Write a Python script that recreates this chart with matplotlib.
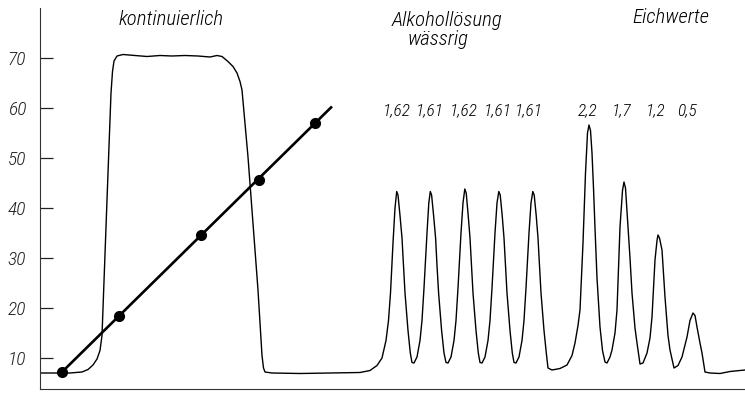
import matplotlib.pyplot as plt

# recorder trace (x = chart paper position, y = scale reading)
trace_x = [40, 70, 82, 88, 93, 97, 100, 102, 105, 108, 111, 112.5, 114, 117, 123,
           135, 147, 160, 172, 185, 198, 210, 217, 222, 228, 233, 237, 240, 242,
           245, 248, 253, 258, 262, 263.5, 265, 272, 300, 330, 360, 370, 377, 382,
           386, 388.5, 390.5, 393, 395, 396.7, 398, 400, 402, 403.5, 405, 408,
           410.3, 412, 414, 417, 420, 422, 424, 427, 428.8, 430.3, 431.6, 433.6,
           435.6, 437, 438.6, 441.6, 444, 446, 448, 451, 454, 456, 458, 461, 463,
           464.8, 466.2, 468.2, 470, 471.5, 473, 476, 478.3, 480, 482, 485, 488,
           490, 492, 495, 497, 498.8, 500.2, 502.2, 504, 505.5, 507, 510, 512.3,
           514, 516, 519, 522, 524, 526, 529, 531, 532.8, 534.2, 536.2, 538, 539.5,
           541, 544, 546.3, 548, 552, 560, 567, 572, 575, 578, 580, 583, 585.5,
           587.5, 589, 590.5, 592, 593.5, 595, 597, 600, 602.5, 605, 607, 610, 612,
           615, 617, 620, 622.5, 624, 625.5, 628, 630, 632, 635, 637, 640, 643, 647,
           650, 652, 655, 657, 658, 659.5, 662, 665, 668, 670, 674, 678, 682, 687,
           690, 693, 695, 697, 700, 702, 705, 710, 720, 730, 745]
trace_y = [7.0, 7.0, 7.2, 7.7, 8.6, 9.8, 11.5, 14.5, 31, 47, 63, 67.3, 69.4, 70.4, 70.7,
           70.5, 70.3, 70.5, 70.4, 70.5, 70.4, 70.2, 70.5, 70.3, 69.3, 68.3, 67.0, 65.3, 63.6,
           57.0, 50.2, 37.0, 23.6, 10.5, 8.0, 7.2, 7.0, 6.9, 7.0, 7.1, 7.5, 8.5, 10.0,
           13.5, 17.5, 23, 33, 40, 43.3, 42.6, 38.5, 34, 28.5, 23, 15.5,
           11, 9.1, 9.0, 10.2, 13.5, 17.5, 24, 35, 41, 43.3, 42.6, 38.5,
           34, 28.5, 23, 15.5, 11, 9.1, 9.0, 10.2, 13.5, 17.5, 24, 35, 41,
           43.8, 43, 38.5, 34, 28.5, 23, 15.5, 11, 9.1, 9.0, 10.2, 13.5,
           17.5, 24, 35, 41, 43.3, 42.6, 38.5, 34, 28.5, 23, 15.5, 11,
           9.1, 9.0, 10.2, 13.5, 17.5, 24, 35, 41, 43.3, 42.6, 38.5, 34, 28.5,
           23, 15.5, 11, 8.0, 7.6, 7.9, 8.6, 10.5, 13, 16.5, 19.6, 33, 47,
           55, 56.6, 55.5, 51, 44, 36, 26, 16.2, 11.5, 9.2, 9.0, 10.2, 11.6,
           15, 19.6, 36.2, 43.5, 45.2, 44, 36.2, 30, 23, 16, 13, 8.8, 9.0, 11,
           14, 18.2, 29.6, 33.5, 34.6, 34, 31.6, 22.2, 14.5, 11.6, 8.0, 8.5, 10.2, 14.2,
           17.5, 19, 18.5, 16.2, 13, 11, 7.2, 7.0, 6.9, 7.3, 7.6]

# calibration line with measured points
dots_x = [62, 119, 201, 259, 315]
dots_y = [7.2, 18.4, 34.6, 45.6, 57.0]
line_x = [62, 332]
line_y = [7.2, 60.3]

yticks = [10, 20, 30, 40, 50, 60, 70]

peak_labels = ['1,62', '1,61', '1,62', '1,61', '1,61', '2,2', '1,7', '1,2', '0,5']
peak_label_x = [397, 430, 464, 498, 529, 588, 622, 656, 687]

fnt = dict(family=['Roboto Condensed', 'DejaVu Sans'],
           style='italic', stretch='condensed', weight='light')

fig = plt.figure(figsize=(7.45, 3.93), dpi=100)
ax = fig.add_axes([40/745, 4/393, 705/745, 381/393])
ax.set_xlim(40, 745)
ax.set_ylim(3.8, 80)

ax.plot(trace_x, trace_y, color='black', lw=1.0)
ax.plot(line_x, line_y, color='black', lw=1.9, solid_capstyle='butt')
ax.plot(dots_x, dots_y, 'o', color='black', ms=7)

for s in ['top', 'right']:
    ax.spines[s].set_visible(False)
for s in ['left', 'bottom']:
    ax.spines[s].set_color('#333333')
    ax.spines[s].set_linewidth(0.8)

ax.set_xticks([])
ax.set_yticks(yticks)
ax.set_yticklabels([str(t) for t in yticks], fontsize=14, **fnt)
ax.tick_params(axis='y', direction='in', length=9.5, width=0.9, pad=10, colors='#222222')

ax.text(171, 76.6, 'kontinuierlich', ha='center', va='baseline', fontsize=15, **fnt)
ax.text(447, 76.4, 'Alkohollösung', ha='center', va='baseline', fontsize=15, **fnt)
ax.text(438, 72.6, 'wässrig', ha='center', va='baseline', fontsize=15, **fnt)
ax.text(671, 77.0, 'Eichwerte', ha='center', va='baseline', fontsize=15, **fnt)

for lx, lab in zip(peak_label_x, peak_labels):
    ax.text(lx, 58.6, lab, ha='center', va='baseline', fontsize=12.5, **fnt)

fig.savefig('out.png', dpi=100)
